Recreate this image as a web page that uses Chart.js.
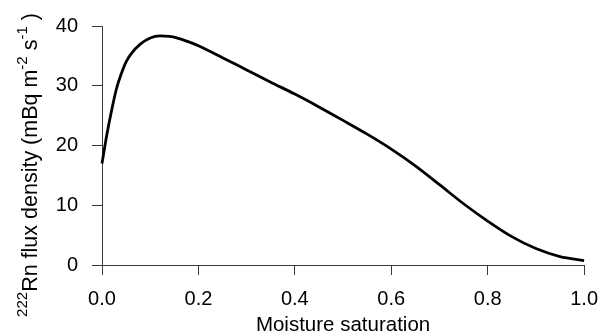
<!DOCTYPE html>
<html><head><meta charset="utf-8">
<script src="https://cdn.jsdelivr.net/npm/chart.js@4/dist/chart.umd.min.js"></script>
<style>html,body{margin:0;padding:0;background:#fff;}#wrap{width:610px;height:336px;}</style>
</head><body><div id="wrap"><canvas id="c" width="610" height="336"></canvas></div>
<script>
const moisture = [0, 0.01, 0.02, 0.03, 0.04, 0.05, 0.06, 0.08, 0.10, 0.12, 0.14, 0.16, 0.18, 0.20, 0.25, 0.30, 0.35, 0.40, 0.45, 0.50, 0.55, 0.60, 0.65, 0.70, 0.75, 0.80, 0.85, 0.90, 0.95, 1.00];
const fluxDensity = [17.0, 21.8, 25.9, 29.5, 32.0, 34.0, 35.3, 37.0, 38.0, 38.35, 38.25, 37.9, 37.35, 36.7, 34.7, 32.65, 30.6, 28.6, 26.45, 24.2, 21.9, 19.4, 16.6, 13.45, 10.25, 7.35, 4.75, 2.75, 1.4, 0.75];
const xTicks = [0, 0.2, 0.4, 0.6, 0.8, 1.0];
const yTicks = [0, 10, 20, 30, 40];
const xTitle = "Moisture saturation";
const yTitleText = ["222", "Rn flux density (mBq m", "-2", " s", "-1", " )"];
const yTitleSup = [true, false, true, false, true, false];

const FONT = "'Liberation Sans', Arial, Helvetica, sans-serif";
const FS = 20;
const YFS = 21.5;
const AXIS_COLOR = '#3a3a3a';

const yTitlePlugin = {
  id: 'yTitle',
  afterDraw(chart) {
    const ctx = chart.ctx;
    const small = 15;
    ctx.save();
    ctx.fillStyle = '#000';
    ctx.textBaseline = 'alphabetic';
    ctx.textAlign = 'left';
    const widths = yTitleText.map((t, i) => {
      ctx.font = (yTitleSup[i] ? small : YFS) + 'px ' + FONT;
      return ctx.measureText(t).width;
    });
    const L = widths.reduce((a, b) => a + b, 0);
    ctx.translate(36.5, 165);
    ctx.rotate(-Math.PI / 2);
    let u = -L / 2;
    yTitleText.forEach((t, i) => {
      ctx.font = (yTitleSup[i] ? small : YFS) + 'px ' + FONT;
      ctx.fillText(t, u, yTitleSup[i] ? -10 : 0);
      u += widths[i];
    });
    ctx.restore();
  }
};

new Chart(document.getElementById('c'), {
  type: 'line',
  data: {
    datasets: [{
      data: moisture.map((m, i) => ({x: m, y: fluxDensity[i]})),
      borderColor: '#000',
      borderWidth: 2.8,
      pointRadius: 0,
      cubicInterpolationMode: 'monotone',
      fill: false,
      clip: false
    }]
  },
  options: {
    responsive: false,
    animation: false,
    devicePixelRatio: 1,
    layout: {padding: {left: 0, right: 19, top: 25, bottom: 0}},
    plugins: {legend: {display: false}, tooltip: {enabled: false}},
    scales: {
      x: {
        type: 'linear', min: 0, max: 1,
        afterBuildTicks: s => { s.ticks = xTicks.map(v => ({value: v})); },
        afterFit: s => { s.height = 71; },
        ticks: {callback: v => Number(v).toFixed(1), color: '#000', font: {family: FONT, size: FS}, padding: 12, maxRotation: 0, autoSkip: false},
        grid: {display: true, drawOnChartArea: false, drawTicks: true, tickLength: 10, color: AXIS_COLOR, lineWidth: 1},
        border: {display: true, color: AXIS_COLOR, width: 1},
        title: {display: true, text: xTitle, color: '#000', font: {family: FONT, size: 20.5, lineHeight: 1.0}, padding: {top: 0, bottom: 0}}
      },
      y: {
        type: 'linear', min: 0, max: 40,
        afterBuildTicks: s => { s.ticks = yTicks.map(v => ({value: v})); },
        afterFit: s => { s.width = 102; },
        ticks: {callback: v => String(v), color: '#000', font: {family: FONT, size: FS}, padding: 14, autoSkip: false},
        grid: {display: true, drawOnChartArea: false, drawTicks: true, tickLength: 10, color: AXIS_COLOR, lineWidth: 1},
        border: {display: true, color: AXIS_COLOR, width: 1}
      }
    }
  },
  plugins: [yTitlePlugin]
});
</script></body></html>
